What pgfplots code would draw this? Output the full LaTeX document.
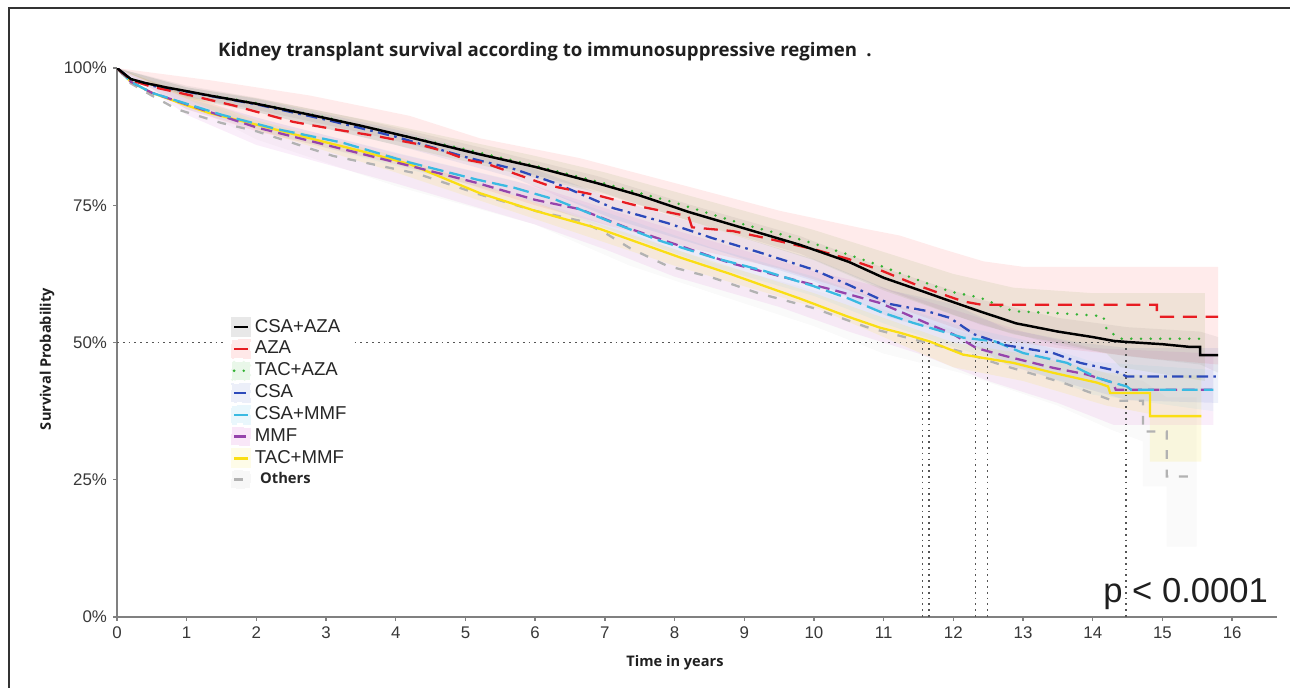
\documentclass[border=0pt]{standalone}
\usepackage{fontspec}
\setmainfont{Liberation Sans}
\newfontfamily\osans{Open Sans}
\usepackage{pgfplots}
\pgfplotsset{compat=1.18}

\definecolor{cRed}{RGB}{232,28,34}
\definecolor{cGreen}{RGB}{52,178,52}
\definecolor{cBlue}{RGB}{44,74,186}
\definecolor{cCyan}{RGB}{58,186,226}
\definecolor{cPurple}{RGB}{150,68,172}
\definecolor{cYellow}{RGB}{250,222,20}
\definecolor{cGray}{RGB}{178,178,178}
\definecolor{cOlive}{RGB}{110,150,40}
\definecolor{cMag}{RGB}{205,70,200}
\definecolor{refGray}{RGB}{85,85,85}

\pgfplotsset{
  band/.style 2 args={draw=none, fill=#1, fill opacity=#2, forget plot},
  kmkey/.style={legend image code/.code={
      \fill[#1] (-7pt,-5pt) rectangle (3pt,5pt);
      \draw[##1] (-6pt,0pt) -- (2pt,0pt);}},
}

\begin{document}
\begin{tikzpicture}[x=0.02cm, y=0.02cm]
\useasboundingbox (0,0) rectangle (1290,688);
\draw[line width=0.8pt, black!80] (9,0) -- (9,680) -- (1290,680);

\begin{axis}[
    at={(2.34cm,1.42cm)}, anchor=south west,
    scale only axis, width=23.2cm, height=10.98cm,
    xmin=0, xmax=16.64, ymin=0, ymax=1,
    axis x line*=bottom, axis y line*=left,
    axis line style={black!50, line width=1pt},
    xtick={0,1,...,16},
    ytick={0,0.25,0.5,0.75,1},
    yticklabels={0\%,25\%,50\%,75\%,100\%},
    tick align=outside, major tick length=2.2pt,
    tick style={black!50, line width=0.8pt},
    tick label style={font=\fontsize{9.6}{11}\selectfont, text=black!78},
    /pgf/number format/assume math mode=true,
    reverse legend,
    legend cell align=left,
    legend style={at={(axis cs:1.58,0.556)}, anchor=north west, draw=none, fill=white,
      font=\fontsize{10.6}{12}\selectfont, text=black!85, row sep=-0.4pt,
      inner sep=2pt},
  ]

  % confidence bands
  \addplot[band={red}{0.08}] coordinates {
    (0,1)(1.33,0.978)(2.77,0.95)(4.2,0.913)(5.21,0.872)(6.64,0.836)(8.08,0.788)(9.51,0.74)(10.7,0.708)(11.23,0.695)(11.8,0.672)(12.43,0.648)(13.0,0.638)(15.8,0.638)
    (15.8,0.46)(14.9,0.47)(13.5,0.49)(12.4,0.51)(11.5,0.55)(10.5,0.595)(9.5,0.635)(8.3,0.67)(7,0.715)(6,0.75)(5,0.79)(4,0.825)(3,0.855)(2,0.885)(1,0.925)(0,1)
  };
  \addplot[band={cGray}{0.07}] coordinates {
    (0,1)(2,0.9)(4,0.835)(6,0.76)(7.36,0.7)(8.55,0.645)(10,0.595)(11,0.56)(12.1,0.52)(13.5,0.47)(14.29,0.44)(14.72,0.43)(15.06,0.4)(15.49,0.4)
    (15.49,0.128)(15.06,0.128)(15.06,0.238)(14.72,0.238)(14.72,0.32)(14.29,0.34)(13.5,0.385)(12.1,0.445)(11,0.48)(10,0.53)(8.55,0.59)(7.36,0.64)(6,0.715)(4,0.785)(2,0.87)(0,1)
  };
  \addplot[band={cMag}{0.09}] coordinates {
    (0,1)(1,0.95)(2,0.91)(4,0.845)(6,0.785)(8,0.705)(10,0.63)(11,0.6)(12,0.56)(13,0.52)(14,0.49)(15.73,0.48)
    (15.73,0.35)(14.3,0.35)(13.5,0.39)(12.5,0.43)(11.5,0.48)(10.5,0.52)(9.5,0.565)(8,0.62)(7,0.67)(6,0.715)(4,0.79)(2,0.86)(1,0.915)(0,1)
  };
  \addplot[band={cYellow}{0.12}] coordinates {
    (0,1)(2,0.905)(4,0.84)(6,0.755)(8,0.67)(10,0.59)(11,0.545)(12,0.5)(13,0.48)(14.2,0.445)(14.82,0.44)(15.56,0.44)
    (15.56,0.283)(14.82,0.283)(14.82,0.37)(14.2,0.385)(13,0.43)(12,0.455)(11,0.51)(10,0.565)(8,0.64)(6,0.725)(4,0.81)(2,0.888)(0,1)
  };
  \addplot[band={cBlue}{0.08}] coordinates {
    (0,1)(1,0.965)(2,0.944)(4,0.888)(5.7,0.83)(7.12,0.762)(8.55,0.708)(10,0.652)(11.1,0.595)(12,0.57)(12.76,0.525)(13.8,0.5)(14.5,0.49)(15.8,0.49)
    (15.8,0.39)(14.5,0.395)(13.8,0.42)(12.76,0.46)(12,0.515)(11.1,0.545)(10,0.612)(8.55,0.67)(7.12,0.725)(5.7,0.8)(4,0.86)(2,0.92)(1,0.948)(0,1)
  };
  \addplot[band={cCyan}{0.07}] coordinates {
    (0,1)(1,0.945)(2.29,0.9)(4.2,0.84)(5.7,0.795)(7.12,0.733)(8.55,0.672)(10,0.62)(11,0.575)(12.1,0.53)(13,0.505)(14,0.465)(15.73,0.45)
    (15.73,0.375)(14,0.405)(13,0.455)(12.1,0.488)(11,0.535)(10,0.585)(8.55,0.638)(7.12,0.703)(5.7,0.768)(4.2,0.815)(2.29,0.878)(1,0.925)(0,1)
  };
  \addplot[band={cOlive}{0.10}] coordinates {
    (0,1)(1,0.965)(2,0.945)(4,0.895)(6,0.84)(7,0.81)(8,0.775)(9,0.74)(10,0.705)(11,0.665)(12,0.625)(12.86,0.6)(14,0.59)(15.61,0.59)
    (15.61,0.43)(14.4,0.455)(14.2,0.48)(13.5,0.5)(12.86,0.515)(12,0.55)(11,0.595)(10,0.65)(9,0.69)(8,0.73)(7,0.77)(6,0.8)(4,0.86)(2,0.92)(1,0.945)(0,1)
  };
  \addplot[band={black}{0.05}] coordinates {
    (0,1)(1,0.968)(2,0.946)(3.5,0.907)(5.2,0.856)(6.9,0.803)(8.2,0.752)(9.8,0.694)(11,0.636)(12.4,0.578)(13.5,0.545)(14.5,0.528)(15.54,0.52)(15.8,0.51)
    (15.8,0.445)(15.54,0.46)(14.5,0.475)(13.5,0.495)(12.4,0.532)(11,0.598)(9.8,0.662)(8.2,0.722)(6.9,0.776)(5.2,0.83)(3.5,0.883)(2,0.924)(1,0.948)(0,1)
  };

  % median reference lines
  \addplot[refGray, line width=0.9pt, dash pattern=on 1pt off 2.3pt, forget plot] coordinates {(0,0.5)(14.49,0.5)};
  \addplot[refGray, line width=0.9pt, dash pattern=on 1pt off 2.3pt, forget plot] coordinates {(11.56,0.5)(11.56,0)};
  \addplot[refGray, line width=0.9pt, dash pattern=on 1pt off 2.3pt, forget plot] coordinates {(11.65,0.5)(11.65,0)};
  \addplot[refGray, line width=0.9pt, dash pattern=on 1pt off 2.3pt, forget plot] coordinates {(12.32,0.5)(12.32,0)};
  \addplot[refGray, line width=0.9pt, dash pattern=on 1pt off 2.3pt, forget plot] coordinates {(12.49,0.5)(12.49,0)};
  \addplot[refGray, line width=0.9pt, dash pattern=on 1pt off 2.3pt, forget plot] coordinates {(14.48,0.5)(14.48,0)};

  % survival curves (plotted bottom-up; legend reversed)
  \addplot[cGray, line width=1.3pt, dash pattern=on 5pt off 6pt, kmkey={cGray!10}] coordinates {
    (0,1)(0.2,0.972)(0.5,0.95)(0.86,0.925)(1.5,0.9)(2,0.885)(3.1,0.84)(4.3,0.808)(5.2,0.77)(6,0.74)(6.64,0.722)(7.0,0.70)(7.36,0.672)(7.89,0.64)(8.55,0.618)(9.2,0.59)(9.99,0.563)(10.76,0.528)(11.3,0.51)(12.1,0.484)(12.67,0.46)(13.57,0.427)(14.29,0.394)(14.72,0.394)(14.72,0.338)(15.06,0.338)(15.06,0.256)(15.49,0.256)
  };
  \addlegendentry{\hspace{3pt}\osans\bfseries\fontsize{8.4}{9}\selectfont Others}
  \addplot[cYellow, line width=1.3pt, kmkey={cYellow!10}] coordinates {
    (0,1)(0.2,0.975)(0.5,0.955)(1,0.932)(1.33,0.918)(2,0.897)(2.77,0.872)(3.5,0.849)(4.2,0.825)(5.21,0.772)(6,0.74)(6.93,0.707)(8.08,0.655)(8.8,0.625)(9.8,0.58)(10.47,0.548)(10.95,0.527)(11.23,0.518)(11.66,0.502)(12.14,0.478)(12.86,0.463)(13.43,0.445)(14.06,0.427)(14.22,0.42)(14.25,0.408)(14.82,0.408)(14.82,0.366)(15.56,0.366)
  };
  \addlegendentry{TAC+MMF}
  \addplot[cPurple, line width=1.3pt, dash pattern=on 6.5pt off 3.5pt, kmkey={cMag!13}] coordinates {
    (0,1)(0.2,0.975)(0.5,0.955)(1,0.934)(2,0.892)(3,0.86)(4.2,0.822)(5.16,0.791)(6,0.76)(6.64,0.743)(7.3,0.71)(8.08,0.676)(8.8,0.645)(9.51,0.621)(10.3,0.595)(10.95,0.572)(11.3,0.553)(11.66,0.533)(12.0,0.515)(12.33,0.49)(12.76,0.475)(13.43,0.454)(13.91,0.442)(14.29,0.427)(14.33,0.414)(15.73,0.414)
  };
  \addlegendentry{MMF}
  \addplot[cCyan, line width=1.3pt, dash pattern=on 9pt off 3.5pt, kmkey={cCyan!11}] coordinates {
    (0,1)(0.2,0.975)(0.5,0.955)(1,0.935)(1.5,0.915)(2.29,0.889)(3.24,0.864)(4.2,0.828)(5.16,0.797)(5.7,0.782)(6.3,0.76)(7.12,0.718)(7.8,0.685)(8.55,0.655)(9.3,0.63)(9.99,0.603)(10.5,0.58)(10.95,0.556)(11.42,0.536)(12.14,0.509)(12.6,0.502)(13.0,0.481)(13.63,0.463)(14.06,0.436)(14.29,0.427)(14.49,0.42)(14.55,0.414)(15.73,0.414)
  };
  \addlegendentry{CSA+MMF}
  \addplot[cBlue, line width=1.3pt, dash pattern=on 6.5pt off 3pt on 1.5pt off 3pt, kmkey={cBlue!9}] coordinates {
    (0,1)(0.2,0.98)(0.5,0.968)(1,0.957)(2,0.934)(3,0.906)(4,0.875)(5,0.838)(5.7,0.816)(6.3,0.79)(7.12,0.745)(7.89,0.718)(8.55,0.69)(9.2,0.665)(9.99,0.633)(10.5,0.605)(11.1,0.57)(11.6,0.558)(11.95,0.545)(12.3,0.515)(12.76,0.495)(13.14,0.487)(13.43,0.481)(13.82,0.463)(14.29,0.45)(14.49,0.438)(15.8,0.438)
  };
  \addlegendentry{CSA}
  \addplot[cGreen, line width=1.6pt, line cap=round, dash pattern=on 0pt off 5.5pt, kmkey={cGreen!11}] coordinates {
    (0,1)(0.2,0.98)(0.5,0.97)(1,0.958)(2,0.936)(3,0.91)(4,0.88)(5,0.852)(6,0.822)(6.93,0.792)(8,0.755)(9,0.715)(9.8,0.688)(10.5,0.66)(10.95,0.64)(11.47,0.615)(11.95,0.593)(12.38,0.582)(12.86,0.557)(13.58,0.553)(14.15,0.548)(14.2,0.524)(14.39,0.507)(15.61,0.507)
  };
  \addlegendentry{TAC+AZA}
  \addplot[cRed, line width=1.3pt, dash pattern=on 8pt off 5pt, kmkey={red!9}] coordinates {
    (0,1)(0.2,0.978)(0.5,0.966)(1,0.952)(1.67,0.932)(2.53,0.902)(3.1,0.889)(3.73,0.876)(4.3,0.862)(4.68,0.849)(5.02,0.833)(5.3,0.826)(6.17,0.787)(6.93,0.767)(7.5,0.748)(8.2,0.73)(8.25,0.71)(8.84,0.703)(9.32,0.69)(10,0.67)(10.5,0.652)(10.95,0.632)(11.47,0.605)(11.8,0.59)(12.14,0.575)(12.4,0.569)(14.92,0.569)(14.92,0.547)(15.8,0.547)
  };
  \addlegendentry{AZA}
  \addplot[black, line width=1.4pt, kmkey={black!9}] coordinates {
    (0,1)(0.2,0.98)(0.4,0.973)(0.7,0.965)(1,0.958)(1.33,0.95)(2,0.935)(2.77,0.915)(3.5,0.895)(4.2,0.874)(5.2,0.843)(6,0.82)(6.9,0.79)(7.5,0.768)(8.2,0.738)(9,0.708)(9.8,0.678)(10.5,0.647)(11,0.618)(11.5,0.596)(11.9,0.578)(12.4,0.556)(12.9,0.535)(13.5,0.52)(14,0.51)(14.3,0.503)(14.5,0.501)(15,0.497)(15.4,0.492)(15.54,0.492)(15.54,0.477)(15.8,0.477)
  };
  \addlegendentry{CSA+AZA}
\end{axis}

\node[anchor=west, text=black!88] at (212,636)
  {\osans\bfseries\fontsize{10.6}{12}\selectfont Kidney transplant survival according to immunosuppressive regimen\hspace{0.5em}.};
\node[rotate=90, text=black!88] at (47,329)
  {\osans\bfseries\fontsize{8.3}{9}\selectfont Survival Probability};
\node[text=black!88] at (675,25)
  {\osans\bfseries\fontsize{8.3}{9}\selectfont Time in years};
\node[anchor=base west, inner sep=0pt, text=black!88] at (1103,85)
  {\fontsize{19.7}{22}\selectfont p < 0.0001};
\end{tikzpicture}
\end{document}
